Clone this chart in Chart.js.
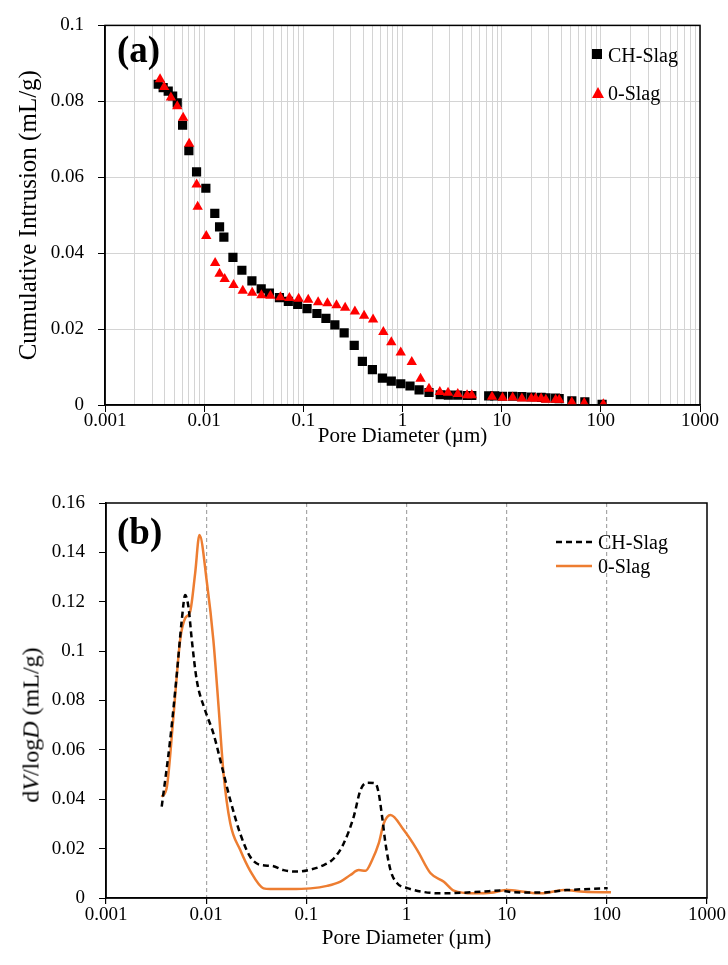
<!DOCTYPE html>
<html>
<head>
<meta charset="utf-8">
<script src="https://cdn.jsdelivr.net/npm/chart.js@4.4.1/dist/chart.umd.min.js"></script>
<style>
  body { margin: 0; background: #fff; }
  #wrap { position: relative; width: 728px; height: 965px; font-family: "Liberation Serif", "Times New Roman", serif; color: #000; }
  canvas { position: absolute; left: 0; }
  .tag { position: absolute; font-weight: bold; font-size: 37px; line-height: 1; }
  .txt { position: absolute; font-size: 20px; line-height: 20px; white-space: nowrap; }
  .mk { position: absolute; }
  #ytitleB { position: absolute; left: 31px; top: 725px; font-size: 24px; white-space: nowrap;
             transform: translate(-50%, -50%) rotate(-90deg); }
</style>
</head>
<body>
<div id="wrap">
  <canvas id="chartA" width="728" height="460" style="top:0;width:728px;height:460px"></canvas>
  <canvas id="chartB" width="728" height="505" style="top:460px;width:728px;height:505px"></canvas>

  <div class="tag" style="left:117px;top:31px">(a)</div>
  <div class="tag" style="left:117px;top:513px">(b)</div>

  <!-- legend (a) -->
  <svg class="mk" style="left:592px;top:49px" width="10" height="10"><rect x="0" y="0" width="10" height="10" fill="#000"/></svg>
  <div class="txt" style="left:608px;top:45px">CH-Slag</div>
  <svg class="mk" style="left:592px;top:87px" width="12" height="11"><polygon points="6,0 12,11 0,11" fill="#ff0000"/></svg>
  <div class="txt" style="left:608px;top:83px">0-Slag</div>

  <!-- legend (b) -->
  <svg class="mk" style="left:556px;top:540px" width="36" height="4"><line x1="0" y1="2" x2="36" y2="2" stroke="#000" stroke-width="2.5" stroke-dasharray="6,4"/></svg>
  <div class="txt" style="left:598px;top:532px">CH-Slag</div>
  <svg class="mk" style="left:556px;top:564px" width="36" height="4"><line x1="0" y1="2" x2="36" y2="2" stroke="#ed7d31" stroke-width="2.5"/></svg>
  <div class="txt" style="left:598px;top:556px">0-Slag</div>

  <div id="ytitleB">d<i>V</i>/log<i>D</i> (mL/g)</div>
</div>

<script>
// axis ticks
const xDecades = [0.001, 0.01, 0.1, 1, 10, 100, 1000];
const yTicksA = [0, 0.02, 0.04, 0.06, 0.08, 0.1];
const yTicksB = [0, 0.02, 0.04, 0.06, 0.08, 0.1, 0.12, 0.14, 0.16];

// (a) cumulative intrusion
const chDiamA = [0.00344, 0.00386, 0.00434, 0.00481, 0.00535, 0.00606, 0.00701, 0.00838, 0.0104, 0.0128,
  0.0143, 0.0158, 0.0195, 0.024, 0.0303, 0.0376, 0.0455, 0.0574, 0.0706, 0.0877,
  0.109, 0.137, 0.169, 0.208, 0.258, 0.326, 0.394, 0.497, 0.627, 0.771,
  0.96, 1.19, 1.47, 1.85, 2.4, 2.9, 3.6, 4.5, 5.0, 7.4,
  8.5, 10.2, 12.9, 16, 19.9, 25, 28, 35, 38, 51, 69, 103];
const chIntrA = [0.0845, 0.0836, 0.0827, 0.0814, 0.0796, 0.0737, 0.067, 0.0614, 0.0571, 0.0505,
  0.0469, 0.0442, 0.0389, 0.0355, 0.0327, 0.0306, 0.0295, 0.0283, 0.0273, 0.0265,
  0.0254, 0.0241, 0.0228, 0.0211, 0.019, 0.0157, 0.0115, 0.0093, 0.0071, 0.0063,
  0.0056, 0.005, 0.004, 0.0033, 0.0027, 0.0026, 0.0026, 0.0025, 0.0025, 0.0024,
  0.0024, 0.0023, 0.0023, 0.0022, 0.0021, 0.002, 0.0019, 0.0018, 0.0017, 0.0011, 0.0008, 0.0002];

const zeroDiamA = [0.00359, 0.00395, 0.00462, 0.00535, 0.00614, 0.00706, 0.0084, 0.0086, 0.0105, 0.0129,
  0.0143, 0.0161, 0.0198, 0.0245, 0.0305, 0.0378, 0.0466, 0.0587, 0.0723, 0.0897,
  0.112, 0.141, 0.175, 0.216, 0.264, 0.331, 0.41, 0.505, 0.641, 0.771,
  0.96, 1.24, 1.52, 1.85, 2.38, 2.88, 3.61, 4.48, 5.0, 8.0,
  10.2, 12.9, 16, 19.9, 22, 25, 27.9, 35, 38, 51, 68, 106];
const zeroIntrA = [0.0858, 0.0838, 0.081, 0.0787, 0.0757, 0.0688, 0.0581, 0.0522, 0.0445, 0.0374,
  0.0346, 0.0332, 0.0316, 0.0301, 0.0296, 0.0289, 0.0288, 0.0284, 0.0282, 0.028,
  0.0277, 0.0271, 0.0268, 0.0263, 0.0256, 0.0246, 0.0235, 0.0225, 0.0192, 0.0165,
  0.0138, 0.0113, 0.0069, 0.0043, 0.0034, 0.0032, 0.0029, 0.0026, 0.0026, 0.0022,
  0.0019, 0.002, 0.0017, 0.0017, 0.0017, 0.0017, 0.0014, 0.0014, 0.0014, 0.0007, 0.0005, 0.0002];

// (b) dV/logD
const chDiamB = [0.0036, 0.00437, 0.0051, 0.00571, 0.00617, 0.00665, 0.00719, 0.00807, 0.00977, 0.0118,
  0.0144, 0.0174, 0.0219, 0.0275, 0.0347, 0.0454, 0.0593, 0.0807, 0.105, 0.143,
  0.188, 0.236, 0.297, 0.347, 0.404, 0.49, 0.528, 0.571, 0.617, 0.692,
  0.807, 1.02, 2.2, 5.5, 8.7, 11.8, 21.9, 40, 102];
const chDvB = [0.037, 0.064, 0.091, 0.1126, 0.1227, 0.118, 0.1045, 0.088, 0.076, 0.0667,
  0.053, 0.0397, 0.026, 0.0167, 0.0134, 0.013, 0.0113, 0.0107, 0.0113, 0.013,
  0.016, 0.0221, 0.0329, 0.0437, 0.0467, 0.0464, 0.0424, 0.0329, 0.0221, 0.0113,
  0.006, 0.004, 0.0019, 0.0025, 0.003, 0.0023, 0.0022, 0.0032, 0.004];

const zeroDiamB = [0.0036, 0.00405, 0.00471, 0.0055, 0.00617, 0.00692, 0.00776, 0.00857, 0.0102, 0.0118,
  0.0133, 0.0149, 0.0174, 0.0219, 0.0275, 0.0374, 0.0437, 0.069, 0.11, 0.161,
  0.219, 0.275, 0.334, 0.389, 0.454, 0.528, 0.593, 0.692, 0.94, 1.28,
  1.74, 2.36, 2.97, 4.7, 6.9, 10.2, 14.9, 21.9, 37.4, 59.3, 110];
const zeroDvB = [0.041, 0.045, 0.0734, 0.1045, 0.1133, 0.116, 0.1315, 0.147, 0.1274, 0.1045,
  0.0775, 0.0505, 0.0303, 0.0194, 0.011, 0.0039, 0.0036, 0.0036, 0.0039, 0.0049,
  0.0066, 0.0093, 0.0113, 0.011, 0.0154, 0.0221, 0.0302, 0.0336, 0.0275, 0.0194,
  0.01, 0.0066, 0.003, 0.0019, 0.0021, 0.0032, 0.0025, 0.0019, 0.0032, 0.0025, 0.0023];

const toXY = (xs, ys) => xs.map((x, i) => ({ x: x, y: ys[i] }));
const isDecade = v => Math.abs(Math.log10(v) - Math.round(Math.log10(v))) < 1e-9;
const fmtY = v => String(Number(v.toFixed(2)));

// decades plus 2..9 minors between them
function logTicks() {
  const out = [];
  xDecades.forEach((d, i) => {
    out.push(d);
    if (i < xDecades.length - 1) {
      for (let k = 2; k < 10; k++) out.push(Number((d * k).toPrecision(3)));
    }
  });
  return out;
}

Chart.defaults.font.family = "'Liberation Serif', 'Times New Roman', serif";
Chart.defaults.color = "#000";

const frame = {
  id: "frame",
  afterDraw(chart) {
    const { ctx, chartArea: a } = chart;
    ctx.save();
    ctx.strokeStyle = "#000";
    ctx.lineWidth = 1.5;
    ctx.strokeRect(a.left, a.top, a.right - a.left, a.bottom - a.top);
    ctx.restore();
  }
};

new Chart(document.getElementById("chartA"), {
  type: "scatter",
  data: {
    datasets: [{
      label: "CH-Slag",
      data: toXY(chDiamA, chIntrA),
      pointStyle: "rect",
      pointRadius: 6.5,
      pointBackgroundColor: "#000",
      pointBorderColor: "#000",
      pointBorderWidth: 0,
      order: 2
    }, {
      label: "0-Slag",
      data: toXY(zeroDiamA, zeroIntrA),
      pointStyle: "triangle",
      pointRadius: 6,
      pointBackgroundColor: "#ff0000",
      pointBorderColor: "#ff0000",
      pointBorderWidth: 0,
      order: 1
    }]
  },
  options: {
    responsive: false,
    animation: false,
    layout: { padding: { top: 18, right: 28, left: 0, bottom: 0 } },
    plugins: { legend: { display: false }, tooltip: { enabled: false } },
    scales: {
      x: {
        type: "logarithmic",
        min: 0.001,
        max: 1000,
        afterBuildTicks: s => { s.ticks = logTicks().map(v => ({ value: v })); },
        afterFit: s => { s.height = 55; },
        ticks: { autoSkip: false, maxRotation: 0, padding: -2, font: { size: 19 },
                 callback: v => isDecade(v) ? String(v) : "" },
        grid: { color: "#d4d4d4", lineWidth: 1, tickLength: 7,
                tickColor: c => isDecade(c.tick.value) ? "#000" : "rgba(0,0,0,0)" },
        border: { color: "#000", width: 1.5 },
        title: { display: true, text: "Pore Diameter (µm)", font: { size: 21 }, padding: { top: 0, bottom: 11 } }
      },
      y: {
        min: 0,
        max: 0.1,
        afterBuildTicks: s => { s.ticks = yTicksA.map(v => ({ value: v })); },
        afterFit: s => { s.width = 105; },
        ticks: { padding: 14, font: { size: 19 }, callback: v => fmtY(v) },
        grid: { color: "#d4d4d4", lineWidth: 1, tickLength: 7, tickColor: "#000" },
        border: { color: "#000", width: 1.5 },
        title: { display: true, text: "Cumulative Intrusion (mL/g)", font: { size: 25 }, padding: { top: 14, bottom: 0 } }
      }
    }
  },
  plugins: [frame]
});

new Chart(document.getElementById("chartB"), {
  type: "scatter",
  data: {
    datasets: [{
      label: "CH-Slag",
      data: toXY(chDiamB, chDvB),
      showLine: true,
      borderColor: "#000",
      borderWidth: 2.5,
      borderDash: [6, 4],
      pointRadius: 0,
      cubicInterpolationMode: "monotone"
    }, {
      label: "0-Slag",
      data: toXY(zeroDiamB, zeroDvB),
      showLine: true,
      borderColor: "#ed7d31",
      borderWidth: 2.5,
      pointRadius: 0,
      cubicInterpolationMode: "monotone"
    }]
  },
  options: {
    responsive: false,
    animation: false,
    layout: { padding: { top: 43, right: 21, left: 0, bottom: 0 } },
    plugins: { legend: { display: false }, tooltip: { enabled: false } },
    scales: {
      x: {
        type: "logarithmic",
        min: 0.001,
        max: 1000,
        afterBuildTicks: s => { s.ticks = xDecades.map(v => ({ value: v })); },
        afterFit: s => { s.height = 67; },
        ticks: { autoSkip: false, maxRotation: 0, padding: 0, font: { size: 19 }, callback: v => String(v) },
        grid: { color: c => (c.tick.value > 0.001 && c.tick.value < 1000) ? "#a6a6a6" : "rgba(0,0,0,0)",
                lineWidth: 1.2, tickLength: 6, tickColor: "#000" },
        border: { color: "#000", width: 1.5, dash: [4, 3] },
        title: { display: true, text: "Pore Diameter (µm)", font: { size: 21 }, padding: { top: 0, bottom: 14 } }
      },
      y: {
        min: 0,
        max: 0.16,
        afterBuildTicks: s => { s.ticks = yTicksB.map(v => ({ value: v })); },
        afterFit: s => { s.width = 106; },
        ticks: { padding: 14, font: { size: 19 }, callback: v => fmtY(v) },
        grid: { drawOnChartArea: false, tickLength: 7, tickColor: "#000" },
        border: { color: "#000", width: 1.5 }
      }
    }
  },
  plugins: [frame]
});
</script>
</body>
</html>
